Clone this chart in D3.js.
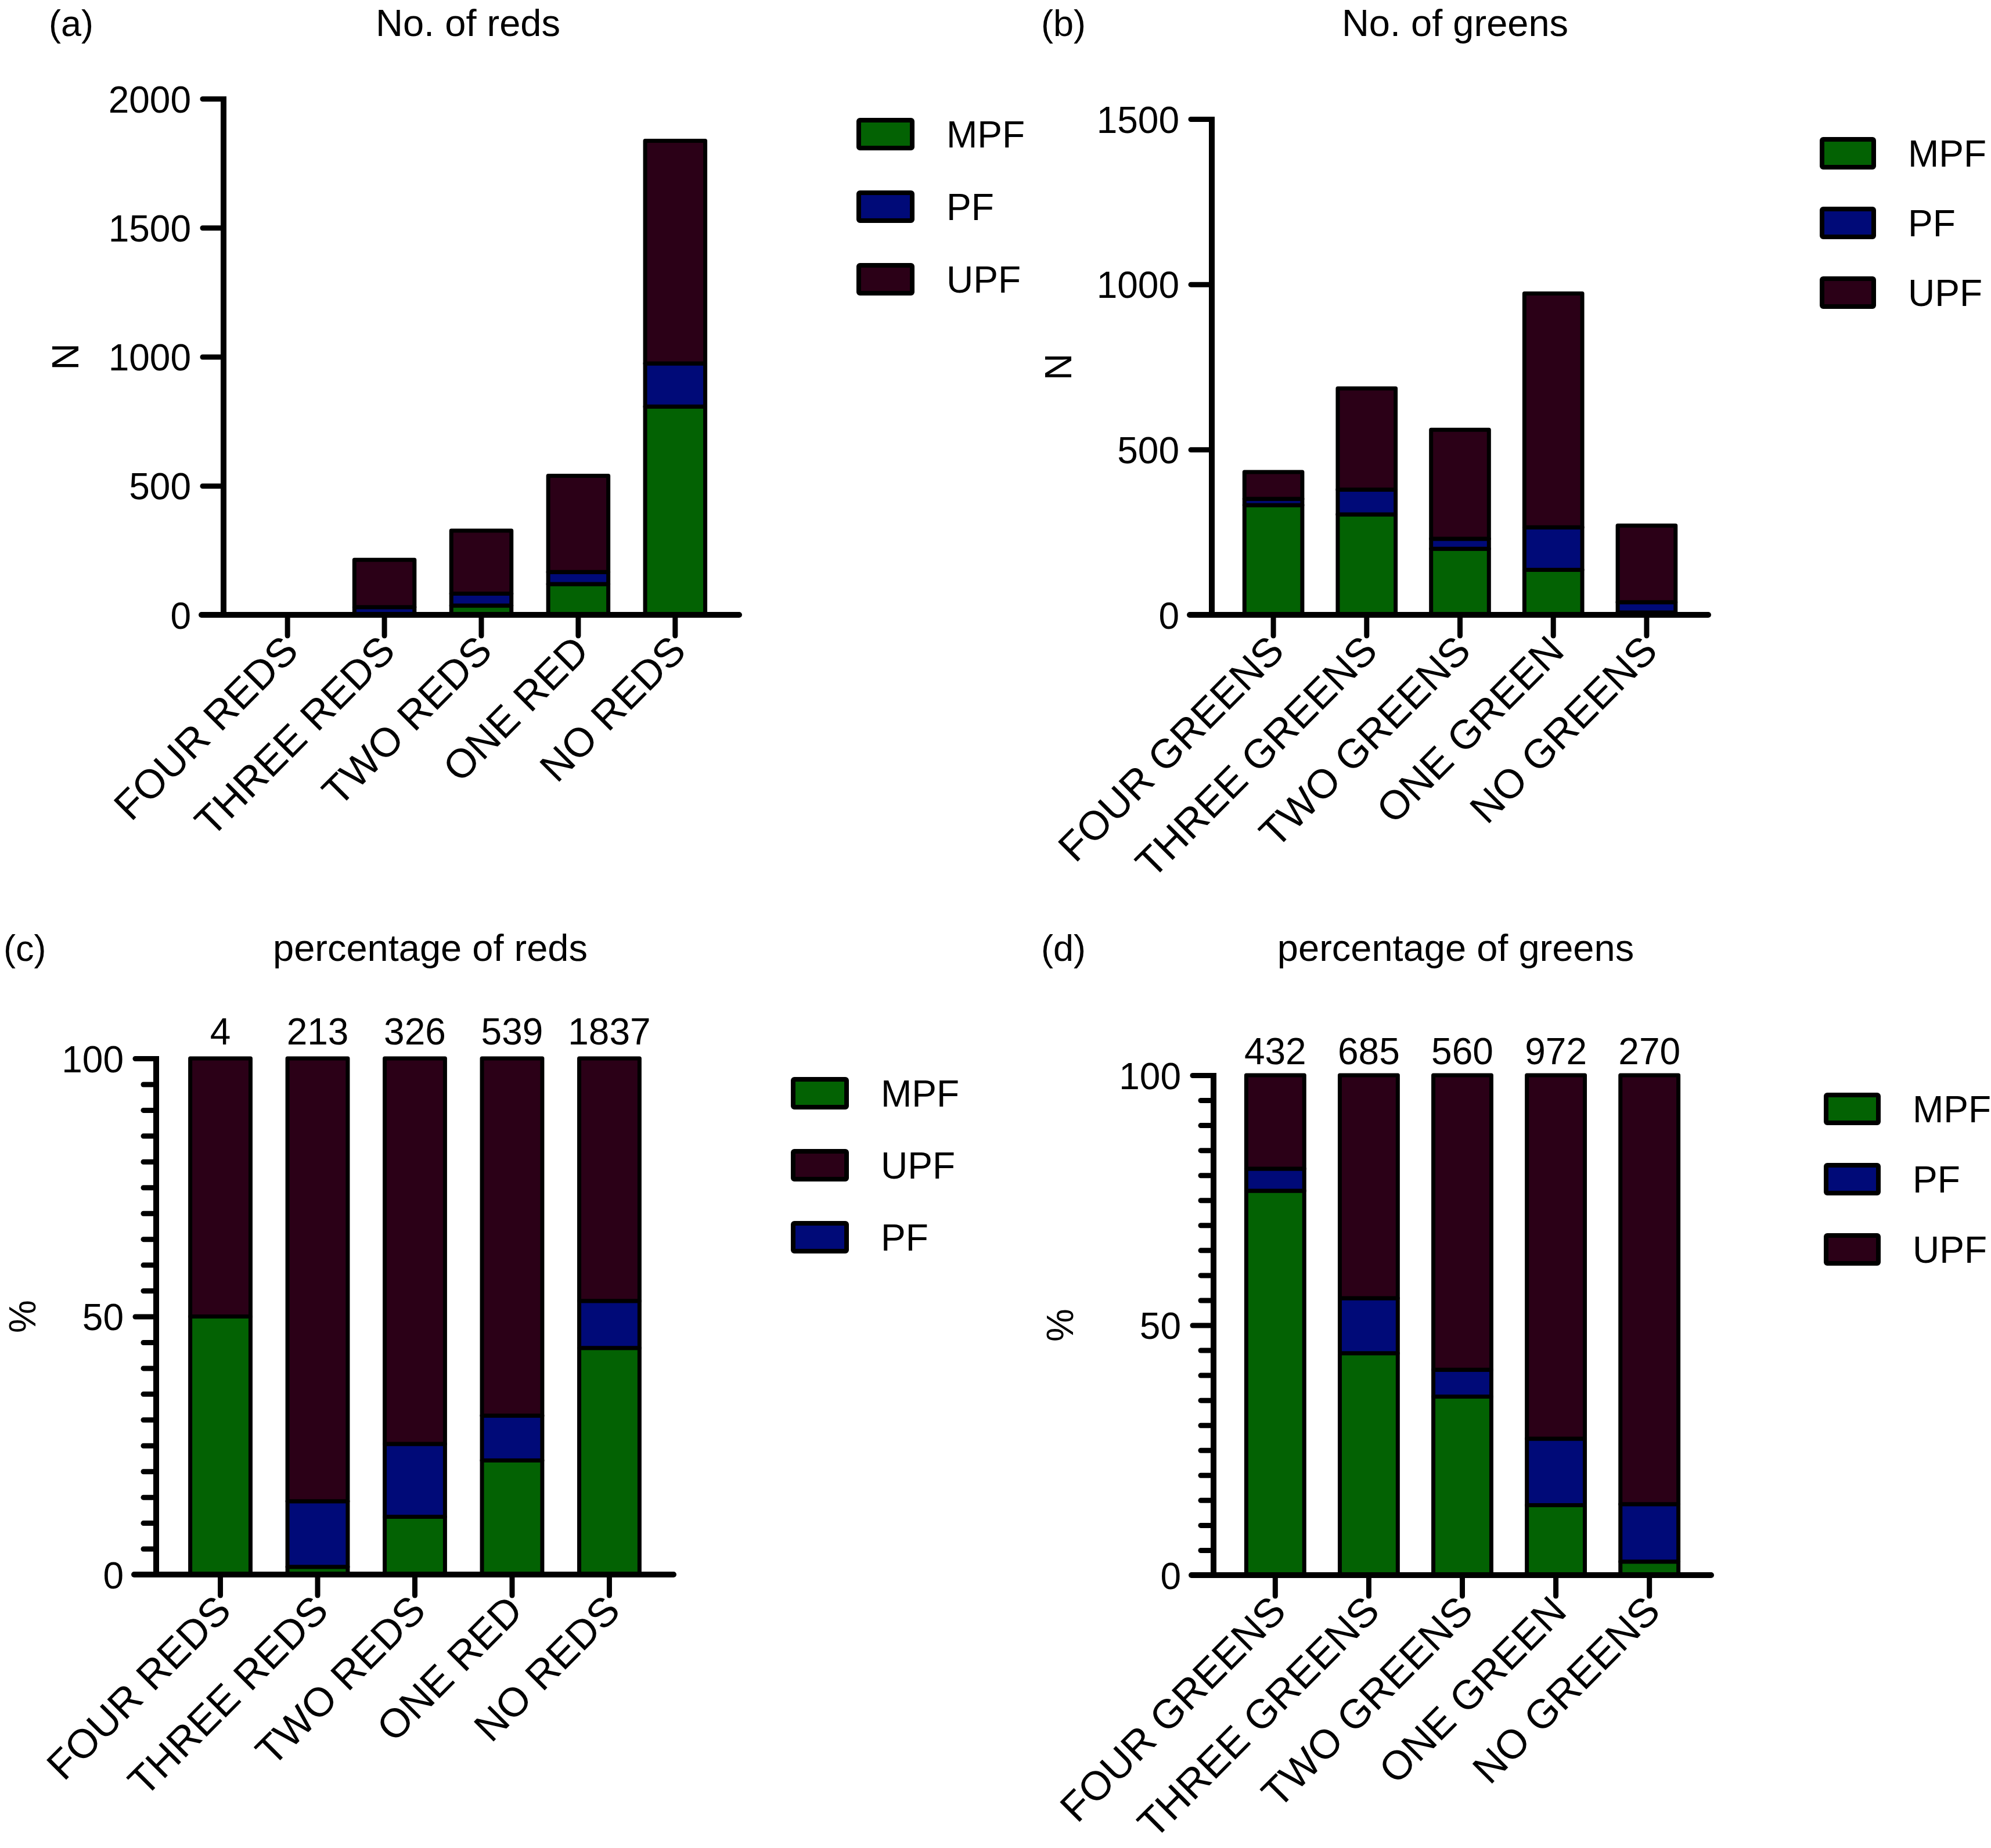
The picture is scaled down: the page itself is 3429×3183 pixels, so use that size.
<!DOCTYPE html>
<html>
<head>
<meta charset="utf-8">
<script src="https://cdn.jsdelivr.net/npm/d3@7"></script>
<style>
  html, body { margin: 0; padding: 0; background: #ffffff; }
  svg { display: block; }
  text { font-family: "Liberation Sans", Arial, Helvetica, sans-serif; fill: #000; }
</style>
</head>
<body>
<svg id="chart" width="3429" height="3183"></svg>
<script>
// ---------------- DATA ----------------
const redCategories = ["FOUR REDS", "THREE REDS", "TWO REDS", "ONE RED", "NO REDS"];
const greenCategories = ["FOUR GREENS", "THREE GREENS", "TWO GREENS", "ONE GREEN", "NO GREENS"];

// (a) No. of reds (counts)
const redsMPF = [2, 3, 36, 119, 807];
const redsPF  = [0, 27, 46, 47, 167];
const redsUPF = [2, 183, 244, 373, 863];

// (b) No. of greens (counts)
const greensMPF = [332, 304, 200, 136, 7];
const greensPF  = [19, 75, 30, 129, 31];
const greensUPF = [81, 306, 330, 707, 232];

// (c) percentage of reds
const redsPctMPF = [50, 1.5, 11.2, 22.1, 43.9];
const redsPctPF  = [0, 12.7, 14.1, 8.7, 9.1];
const redsPctUPF = [50, 85.8, 74.7, 69.2, 47.0];
const redsTotals = [4, 213, 326, 539, 1837];

// (d) percentage of greens
const greensPctMPF = [76.9, 44.4, 35.7, 14.0, 2.7];
const greensPctPF  = [4.4, 11.0, 5.4, 13.3, 11.5];
const greensPctUPF = [18.7, 44.6, 58.9, 72.7, 85.8];
const greensTotals = [432, 685, 560, 972, 270];

const countTicksA = [0, 500, 1000, 1500, 2000];
const countTicksB = [0, 500, 1000, 1500];
const pctMajorTicks = [0, 50, 100];
const pctMinorTicks = d3.range(0, 101, 5);

const seriesNames = ["MPF", "PF", "UPF"];
const colors = { MPF: "#036203", PF: "#000a78", UPF: "#2b0017" };

// ---------------- DRAW ----------------
const svg = d3.select("#chart");
svg.append("rect").attr("width", 3429).attr("height", 3183).attr("fill", "#fff");

const FONT = 64;
const AXIS_W = 10;
const BAR_STROKE = 7;

function drawPanel(cfg) {
  const g = svg.append("g");
  const rows = cfg.categories.map((c, i) => ({
    cat: c, MPF: cfg.mpf[i], PF: cfg.pf[i], UPF: cfg.upf[i]
  }));
  const stack = d3.stack().keys(seriesNames)(rows);

  const x = d3.scaleBand().domain(cfg.categories)
    .range([cfg.x0, cfg.x1]).paddingInner(0.38).paddingOuter(0.35);
  const y = d3.scaleLinear().domain([0, cfg.ymax]).range([cfg.yBottom, cfg.yTop]);

  // bars (skip segments that are too thin to show in the reference)
  stack.forEach(layer => {
    g.selectAll(null).data(layer.filter(d => y(d[0]) - y(d[1]) > 3)).enter().append("rect")
      .attr("x", d => x(d.data.cat))
      .attr("width", x.bandwidth())
      .attr("y", d => y(d[1]))
      .attr("height", d => y(d[0]) - y(d[1]))
      .attr("fill", colors[layer.key])
      .attr("stroke", "#000")
      .attr("stroke-width", BAR_STROKE)
      .attr("stroke-linejoin", "round");
  });

  // y axis
  const yAxis = d3.axisLeft(y).tickValues(cfg.yTicks).tickSize(36).tickPadding(20)
    .tickFormat(d3.format("d"));
  const ya = g.append("g").attr("transform", `translate(${cfg.x0},0)`).call(yAxis);
  if (cfg.minor) {
    const ym = d3.axisLeft(y).tickValues(cfg.minor.filter(v => cfg.yTicks.indexOf(v) < 0))
      .tickSize(22).tickFormat("");
    const ymg = g.append("g").attr("transform", `translate(${cfg.x0},0)`).call(ym);
    ymg.select(".domain").remove();
    ymg.selectAll("line").attr("stroke", "#000").attr("stroke-width", 9).attr("stroke-linecap", "round");
  }
  ya.select(".domain").remove();
  ya.selectAll("line").attr("stroke", "#000").attr("stroke-width", 9).attr("stroke-linecap", "round");
  ya.selectAll("text").style("font-size", FONT + "px").attr("dy", "0.36em");
  g.append("line").attr("x1", cfg.x0).attr("x2", cfg.x0)
    .attr("y1", cfg.yTop - 4).attr("y2", cfg.yBottom)
    .attr("stroke", "#000").attr("stroke-width", AXIS_W);

  // x axis
  const xAxis = d3.axisBottom(x).tickSize(36).tickFormat("");
  const xa = g.append("g").attr("transform", `translate(0,${cfg.yBottom})`).call(xAxis);
  xa.select(".domain").remove();
  xa.selectAll("line").attr("stroke", "#000").attr("stroke-width", 9).attr("stroke-linecap", "round");
  g.append("line").attr("x1", cfg.x0 - 38).attr("x2", cfg.x1)
    .attr("y1", cfg.yBottom).attr("y2", cfg.yBottom)
    .attr("stroke", "#000").attr("stroke-width", AXIS_W).attr("stroke-linecap", "round");

  // category labels
  g.selectAll(null).data(cfg.categories).enter().append("text")
    .attr("transform", d => `translate(${x(d) + x.bandwidth() / 2 + 22},${cfg.yBottom + 66}) rotate(-45)`)
    .attr("text-anchor", "end")
    .style("font-size", "70px")
    .text(d => d);

  // y label
  g.append("text")
    .attr("transform", `translate(${cfg.ylabX},${(cfg.yTop + cfg.yBottom) / 2}) rotate(-90)`)
    .attr("text-anchor", "middle").attr("dy", "0.36em")
    .style("font-size", FONT + "px")
    .text(cfg.ylabel);

  // title and panel letter
  g.append("text").attr("x", cfg.titleX).attr("y", cfg.titleY)
    .attr("text-anchor", "middle").style("font-size", "65px").text(cfg.title);
  g.append("text").attr("x", cfg.letterX).attr("y", cfg.titleY)
    .style("font-size", "63px").text(cfg.letter);

  // totals above bars
  if (cfg.totals) {
    g.selectAll(null).data(cfg.totals).enter().append("text")
      .attr("x", (d, i) => x(cfg.categories[i]) + x.bandwidth() / 2)
      .attr("y", cfg.totalsY)
      .attr("text-anchor", "middle")
      .style("font-size", FONT + "px")
      .text(d => d);
  }

  // legend
  const lg = g.append("g");
  cfg.legendOrder.forEach((k, i) => {
    const cy = cfg.legY + i * cfg.legStep;
    lg.append("rect").attr("x", cfg.legX + 4).attr("y", cy - 24)
      .attr("width", cfg.legW - 8).attr("height", 48)
      .attr("fill", colors[k]).attr("stroke", "#000").attr("stroke-width", 8)
      .attr("rx", 2);
    lg.append("text").attr("x", cfg.legX + cfg.legW + 55).attr("y", cy)
      .attr("dy", "0.36em").style("font-size", FONT + "px").text(k);
  });
}

drawPanel({
  categories: redCategories, mpf: redsMPF, pf: redsPF, upf: redsUPF,
  ymax: 2000, yTicks: countTicksA, x0: 385, x1: 1273, yTop: 170, yBottom: 1059,
  ylabel: "N", ylabX: 112, title: "No. of reds", titleX: 806, titleY: 62,
  letter: "(a)", letterX: 84,
  legendOrder: ["MPF", "PF", "UPF"], legX: 1475, legW: 100, legY: 231, legStep: 125
});

drawPanel({
  categories: greenCategories, mpf: greensMPF, pf: greensPF, upf: greensUPF,
  ymax: 1500, yTicks: countTicksB, x0: 2087, x1: 2942, yTop: 205, yBottom: 1059,
  ylabel: "N", ylabX: 1822, title: "No. of greens", titleX: 2506, titleY: 62,
  letter: "(b)", letterX: 1793,
  legendOrder: ["MPF", "PF", "UPF"], legX: 3134, legW: 97, legY: 264, legStep: 120
});

drawPanel({
  categories: redCategories, mpf: redsPctMPF, pf: redsPctPF, upf: redsPctUPF,
  ymax: 100, yTicks: pctMajorTicks, minor: pctMinorTicks,
  x0: 269, x1: 1160, yTop: 1823, yBottom: 2712,
  ylabel: "%", ylabX: 38, title: "percentage of reds", titleX: 741, titleY: 1655,
  letter: "(c)", letterX: 6, totals: redsTotals, totalsY: 1799,
  legendOrder: ["MPF", "UPF", "PF"], legX: 1362, legW: 100, legY: 1883, legStep: 124
});

drawPanel({
  categories: greenCategories, mpf: greensPctMPF, pf: greensPctPF, upf: greensPctUPF,
  ymax: 100, yTicks: pctMajorTicks, minor: pctMinorTicks,
  x0: 2090, x1: 2947, yTop: 1852, yBottom: 2713,
  ylabel: "%", ylabX: 1825, title: "percentage of greens", titleX: 2507, titleY: 1655,
  letter: "(d)", letterX: 1793, totals: greensTotals, totalsY: 1833,
  legendOrder: ["MPF", "PF", "UPF"], legX: 3141, legW: 98, legY: 1910, legStep: 121
});
</script>
</body>
</html>
